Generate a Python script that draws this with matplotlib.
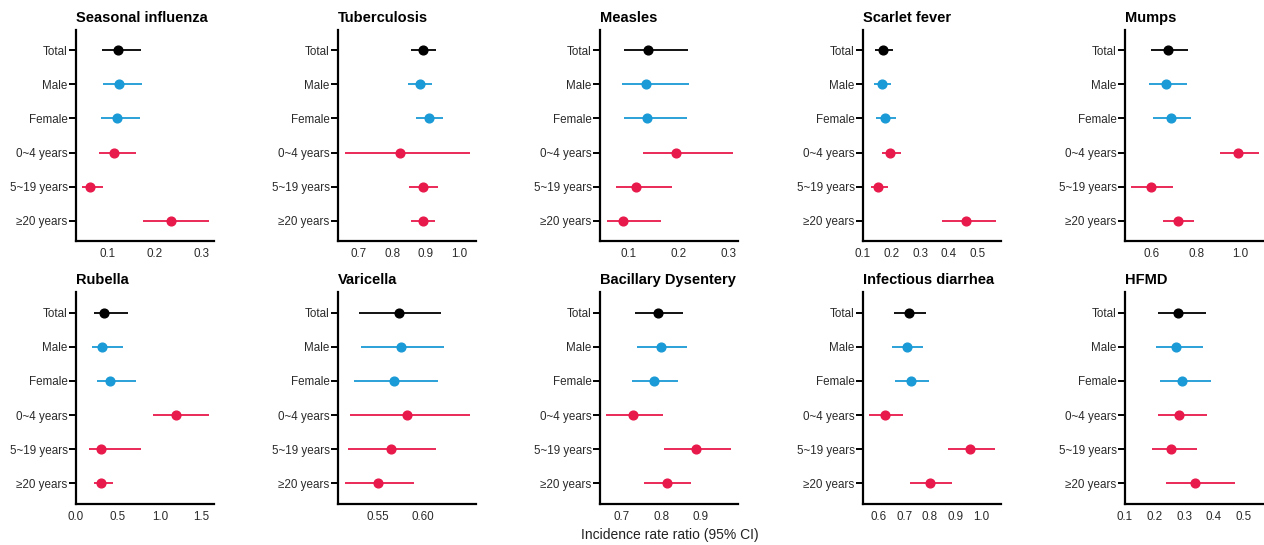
import matplotlib
matplotlib.use("Agg")
import matplotlib.pyplot as plt

plt.rcParams['font.family'] = ['Liberation Sans', 'DejaVu Sans']

categories = ["Total", "Male", "Female", "0~4 years", "5~19 years", "≥20 years"]
group_colors = ["#000000", "#1A9AD6", "#1A9AD6", "#E8194B", "#E8194B", "#E8194B"]

diseases = ["Seasonal influenza", "Tuberculosis", "Measles", "Scarlet fever", "Mumps",
            "Rubella", "Varicella", "Bacillary Dysentery", "Infectious diarrhea", "HFMD"]

# point estimates, lower and upper 95% CI (order: categories)
flu_est = [0.123, 0.126, 0.120, 0.114, 0.064, 0.234]
flu_lo = [0.090, 0.091, 0.087, 0.083, 0.047, 0.176]
flu_hi = [0.172, 0.174, 0.169, 0.162, 0.092, 0.316]

tb_est = [0.891, 0.881, 0.910, 0.823, 0.892, 0.890]
tb_lo = [0.856, 0.845, 0.871, 0.658, 0.848, 0.854]
tb_hi = [0.929, 0.917, 0.952, 1.032, 0.937, 0.928]

measles_est = [0.138, 0.134, 0.136, 0.196, 0.114, 0.089]
measles_lo = [0.090, 0.087, 0.090, 0.128, 0.074, 0.056]
measles_hi = [0.220, 0.221, 0.217, 0.309, 0.188, 0.164]

scarlet_est = [0.170, 0.166, 0.177, 0.196, 0.154, 0.461]
scarlet_lo = [0.143, 0.138, 0.147, 0.165, 0.128, 0.378]
scarlet_hi = [0.205, 0.198, 0.215, 0.233, 0.189, 0.564]

mumps_est = [0.675, 0.665, 0.685, 0.992, 0.594, 0.716]
mumps_lo = [0.595, 0.588, 0.605, 0.907, 0.507, 0.649]
mumps_hi = [0.764, 0.757, 0.776, 1.084, 0.696, 0.789]

rubella_est = [0.338, 0.305, 0.402, 1.199, 0.301, 0.297]
rubella_lo = [0.214, 0.192, 0.248, 0.914, 0.158, 0.214]
rubella_hi = [0.617, 0.560, 0.722, 1.583, 0.774, 0.436]

varicella_est = [0.5728, 0.5761, 0.5676, 0.5824, 0.5640, 0.5500]
varicella_lo = [0.5287, 0.5316, 0.5235, 0.5191, 0.5165, 0.5129]
varicella_hi = [0.6202, 0.6235, 0.6162, 0.6522, 0.6140, 0.5900]

dysentery_est = [0.792, 0.798, 0.781, 0.729, 0.889, 0.815]
dysentery_lo = [0.734, 0.737, 0.726, 0.660, 0.807, 0.756]
dysentery_hi = [0.854, 0.865, 0.843, 0.805, 0.978, 0.876]

diarrhea_est = [0.719, 0.710, 0.726, 0.626, 0.956, 0.799]
diarrhea_lo = [0.659, 0.653, 0.663, 0.565, 0.870, 0.724]
diarrhea_hi = [0.783, 0.774, 0.795, 0.695, 1.053, 0.885]

hfmd_est = [0.281, 0.272, 0.292, 0.284, 0.256, 0.337]
hfmd_lo = [0.211, 0.205, 0.219, 0.213, 0.193, 0.240]
hfmd_hi = [0.375, 0.365, 0.392, 0.377, 0.345, 0.473]

estimates = [flu_est, tb_est, measles_est, scarlet_est, mumps_est,
             rubella_est, varicella_est, dysentery_est, diarrhea_est, hfmd_est]
lowers = [flu_lo, tb_lo, measles_lo, scarlet_lo, mumps_lo,
          rubella_lo, varicella_lo, dysentery_lo, diarrhea_lo, hfmd_lo]
uppers = [flu_hi, tb_hi, measles_hi, scarlet_hi, mumps_hi,
          rubella_hi, varicella_hi, dysentery_hi, diarrhea_hi, hfmd_hi]

xticks = [[0.1, 0.2, 0.3], [0.7, 0.8, 0.9, 1.0], [0.1, 0.2, 0.3],
          [0.1, 0.2, 0.3, 0.4, 0.5], [0.6, 0.8, 1.0],
          [0.0, 0.5, 1.0, 1.5], [0.55, 0.60], [0.7, 0.8, 0.9],
          [0.6, 0.7, 0.8, 0.9, 1.0], [0.1, 0.2, 0.3, 0.4, 0.5]]
xticklabels = [["0.1", "0.2", "0.3"], ["0.7", "0.8", "0.9", "1.0"], ["0.1", "0.2", "0.3"],
               ["0.1", "0.2", "0.3", "0.4", "0.5"], ["0.6", "0.8", "1.0"],
               ["0.0", "0.5", "1.0", "1.5"], ["0.55", "0.60"], ["0.7", "0.8", "0.9"],
               ["0.6", "0.7", "0.8", "0.9", "1.0"], ["0.1", "0.2", "0.3", "0.4", "0.5"]]
xlims = [(0.034, 0.326), (0.638, 1.049), (0.042, 0.320), (0.1, 0.583), (0.478, 1.103),
         (0.0, 1.647), (0.5055, 0.659), (0.644, 0.995), (0.5406, 1.075), (0.1, 0.567)]

W, H = 1264, 545
fig = plt.figure(figsize=(W / 100, H / 100), dpi=100)

lefts = [76, 338, 600, 863, 1125]
ax_w = 138
rows = [(30, 241), (292, 504)]

for i, name in enumerate(diseases):
    r, c = divmod(i, 5)
    top, bot = rows[r]
    ax = fig.add_axes([lefts[c] / W, 1 - bot / H, ax_w / W, (bot - top) / H])
    n = len(categories)
    ys = list(range(n, 0, -1))
    for y, e, lo, hi, col in zip(ys, estimates[i], lowers[i], uppers[i], group_colors):
        ax.plot([lo, hi], [y, y], color=col, lw=1.3, solid_capstyle='butt', zorder=2)
        ax.plot([e], [y], 'o', color=col, ms=6.3, zorder=3)
    ax.set_ylim(0.4, n + 0.6)
    ax.set_yticks(ys)
    ax.set_yticklabels(categories, fontsize=8.4, color="#2b2b2b")
    ax.set_xlim(*xlims[i])
    ax.set_xticks(xticks[i])
    ax.set_xticklabels(xticklabels[i], fontsize=8.4, color="#2b2b2b")
    ax.tick_params(axis='y', length=5, width=1.4, color='black', pad=1)
    ax.tick_params(axis='x', length=0, pad=5)
    for s in ['top', 'right']:
        ax.spines[s].set_visible(False)
    for s in ['left', 'bottom']:
        ax.spines[s].set_linewidth(1.6)
        ax.spines[s].set_color('black')
    ax.set_title(name, loc='left', fontsize=10.5, fontweight='bold', pad=6, x=0.0)

fig.text(670 / W, 1 - 535 / H, "Incidence rate ratio (95% CI)", ha='center', va='center',
         fontsize=10, color="#222222")

fig.savefig("out.png", dpi=100)
